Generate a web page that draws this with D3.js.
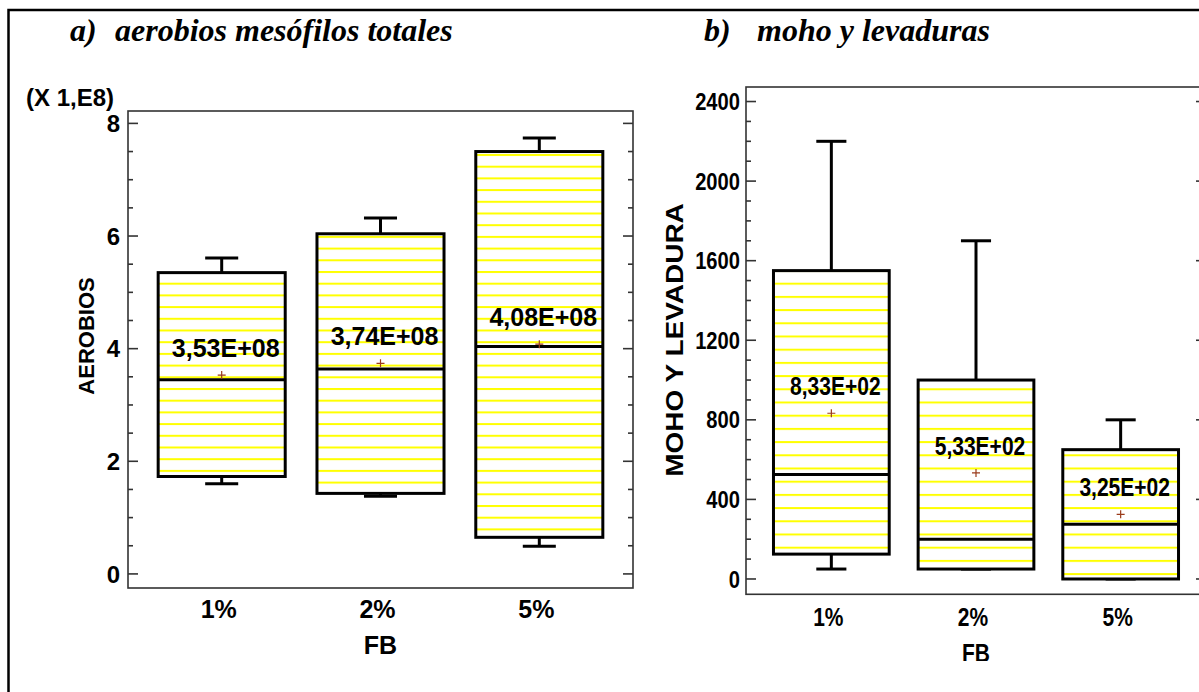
<!DOCTYPE html>
<html>
<head>
<meta charset="utf-8">
<script src="https://cdn.jsdelivr.net/npm/d3@7"></script>
<style>
  html, body { margin: 0; padding: 0; background: #ffffff; }
  svg { display: block; }
  text { font-family: "Liberation Sans", Arial, sans-serif; font-weight: bold; fill: #000; }
</style>
</head>
<body>
<svg id="chart" width="1199" height="692"></svg>
<script>
// ---------------- DATA ----------------
const categories = ["1%", "2%", "5%"];

// a) aerobios mesófilos totales (units of 1E8)
const aerobiosMin    = [1.60, 1.38, 0.49];
const aerobiosQ1     = [1.73, 1.43, 0.65];
const aerobiosMedian = [3.45, 3.64, 4.04];
const aerobiosQ3     = [5.35, 6.04, 7.50];
const aerobiosMax    = [5.61, 6.32, 7.74];
const aerobiosMean   = [3.53, 3.74, 4.08];
const aerobiosMeanLabels = ["3,53E+08", "3,74E+08", "4,08E+08"];
const aerobiosTicks  = [0, 2, 4, 6, 8];

// b) moho y levaduras
const mohoMin    = [50, 50, 0];
const mohoQ1     = [125, 50, 0];
const mohoMedian = [525, 200, 275];
const mohoQ3     = [1550, 1000, 650];
const mohoMax    = [2200, 1700, 800];
const mohoMean   = [833, 533, 325];
const mohoMeanLabels = ["8,33E+02", "5,33E+02", "3,25E+02"];
const mohoTicks  = [0, 400, 800, 1200, 1600, 2000, 2400];

// ---------------- DRAWING ----------------
const svg = d3.select("#chart");

// outer frame (only top & left visible)
svg.append("rect")
  .attr("x", 8.5).attr("y", 10).attr("width", 1400).attr("height", 1000)
  .attr("fill", "none").attr("stroke", "#000").attr("stroke-width", 2.5);

// titles
function title(xa, xb, label, rest) {
  const g = svg.append("g");
  [[xa, label], [xb, rest]].forEach(([xx, t]) => {
    g.append("text").attr("x", xx).attr("y", 41).text(t)
      .style("font-family", "'Liberation Serif', 'Times New Roman', serif")
      .style("font-style", "italic").style("font-size", "32px");
  });
}
title(70, 115, "a)", "aerobios mesófilos totales");
title(704, 757, "b)", "moho y levaduras");

const defs = svg.append("defs");
function stripePattern(id, step, offset) {
  const p = defs.append("pattern").attr("id", id)
    .attr("patternUnits", "userSpaceOnUse")
    .attr("x", 0).attr("y", offset).attr("width", 10).attr("height", step);
  p.append("rect").attr("width", 10).attr("height", step).attr("fill", "#fff");
  p.append("rect").attr("y", 0).attr("width", 10).attr("height", 2).attr("fill", "#ffff00");
}
stripePattern("stripesA", 11.7, 1.9);
stripePattern("stripesB", 13.2, 282.7 - 13.2 * 21);

function drawPanel(cfg) {
  const g = svg.append("g");
  if (cfg.clipBottom) {
    defs.append("clipPath").attr("id", cfg.id + "clip")
      .append("rect").attr("x", 0).attr("y", 0).attr("width", 1199).attr("height", cfg.clipBottom);
    g.attr("clip-path", `url(#${cfg.id}clip)`);
  }
  const x = d3.scalePoint().domain(categories).range([cfg.left, cfg.right]).padding(0.59);
  const step = x.step();
  const bw = step * 0.80;
  const cap = bw * 0.26;
  const y = d3.scaleLinear().domain(cfg.domain).range([cfg.bottom, cfg.top]);
  const sx = cfg.sx;

  // frame
  g.append("rect").attr("x", cfg.left).attr("y", cfg.top)
    .attr("width", cfg.right - cfg.left).attr("height", cfg.bottom - cfg.top)
    .attr("fill", "none").attr("stroke", "#333").attr("stroke-width", 1.6);

  // ticks (inner, both sides)
  const minor = d3.range(cfg.ticks[0], cfg.ticks[cfg.ticks.length - 1] + 1e-9, cfg.minorStep);
  minor.forEach(v => {
    const isMajor = cfg.ticks.some(t => Math.abs(t - v) < 1e-9);
    const len = isMajor ? 10 : 5;
    g.append("line").attr("x1", cfg.left).attr("x2", cfg.left + len)
      .attr("y1", y(v)).attr("y2", y(v)).attr("stroke", "#333").attr("stroke-width", 1.6);
    g.append("line").attr("x1", cfg.right).attr("x2", cfg.right - len)
      .attr("y1", y(v)).attr("y2", y(v)).attr("stroke", "#333").attr("stroke-width", 1.6);
  });
  // tick labels
  cfg.ticks.forEach(v => {
    g.append("g").attr("transform", `translate(${cfg.left - cfg.labelGap},${y(v) + 8.6}) scale(${sx},1)`)
      .append("text").attr("text-anchor", "end").style("font-size", "24px").text(v);
  });

  // boxes
  categories.forEach((c, i) => {
    const cx = x(c);
    const stroke = (sel) => sel.attr("stroke", "#000").attr("stroke-width", 3);
    stroke(g.append("line").attr("x1", cx).attr("x2", cx).attr("y1", y(cfg.q3[i])).attr("y2", y(cfg.max[i])));
    stroke(g.append("line").attr("x1", cx).attr("x2", cx).attr("y1", y(cfg.q1[i])).attr("y2", y(cfg.min[i])));
    stroke(g.append("line").attr("x1", cx - cap / 2).attr("x2", cx + cap / 2).attr("y1", y(cfg.max[i])).attr("y2", y(cfg.max[i])));
    stroke(g.append("line").attr("x1", cx - cap / 2).attr("x2", cx + cap / 2).attr("y1", y(cfg.min[i])).attr("y2", y(cfg.min[i])));
    stroke(g.append("rect").attr("x", cx - bw / 2).attr("y", y(cfg.q3[i]))
      .attr("width", bw).attr("height", y(cfg.q1[i]) - y(cfg.q3[i]))
      .attr("fill", `url(#${cfg.pattern})`));
    stroke(g.append("line").attr("x1", cx - bw / 2).attr("x2", cx + bw / 2)
      .attr("y1", y(cfg.median[i])).attr("y2", y(cfg.median[i])));
    // mean marker
    const my = y(cfg.mean[i]);
    g.append("path").attr("d", `M${cx - 4},${my}H${cx + 4}M${cx},${my - 4}V${my + 4}`)
      .attr("stroke", "#9a3b1b").attr("stroke-width", 1.2).attr("fill", "none");
    // mean label
    g.append("g").attr("transform", `translate(${cx + 4},${my - 18}) scale(${sx},1)`)
      .append("text").attr("text-anchor", "middle").style("font-size", "25px").text(cfg.labels[i]);
    // category label
    g.append("g").attr("transform", `translate(${cx - 3},${cfg.catY}) scale(${sx},1)`)
      .append("text").attr("text-anchor", "middle").style("font-size", "25px").text(c);
  });

  // x title
  g.append("g").attr("transform", `translate(${(cfg.left + cfg.right) / 2},${cfg.fbY}) scale(${sx},1)`)
    .append("text").attr("text-anchor", "middle").style("font-size", "25px").text("FB");
  // y title
  g.append("g").attr("transform", `translate(${cfg.ytX},${cfg.ytY}) scale(${sx},1) rotate(-90)`)
    .append("text").attr("text-anchor", "middle").style("font-size", cfg.ytSize + "px").text(cfg.yTitle);
  return g;
}

drawPanel({
  id: "a", left: 128, right: 633, top: 111, bottom: 588,
  domain: [-0.25, 8.22], ticks: aerobiosTicks, minorStep: 0.5,
  min: aerobiosMin, q1: aerobiosQ1, median: aerobiosMedian, q3: aerobiosQ3, max: aerobiosMax,
  mean: aerobiosMean, labels: aerobiosMeanLabels, pattern: "stripesA",
  sx: 1, labelGap: 8, catY: 618, fbY: 654, yTitle: "AEROBIOS", ytX: 94, ytY: 336, ytSize: 22
});

drawPanel({
  id: "b", left: 746, right: 1206, top: 87, bottom: 594.3,
  domain: [-77, 2473], ticks: mohoTicks, minorStep: 100,
  min: mohoMin, q1: mohoQ1, median: mohoMedian, q3: mohoQ3, max: mohoMax,
  mean: mohoMean, labels: mohoMeanLabels, pattern: "stripesB",
  sx: 0.84, labelGap: 6, catY: 626, fbY: 662, yTitle: "MOHO Y LEVADURA", ytX: 683, ytY: 340, ytSize: 28,
  clipBottom: 661
});

// multiplier label
svg.append("text").attr("x", 26).attr("y", 106).style("font-size", "24px").text("(X 1,E8)");
</script>
</body>
</html>
